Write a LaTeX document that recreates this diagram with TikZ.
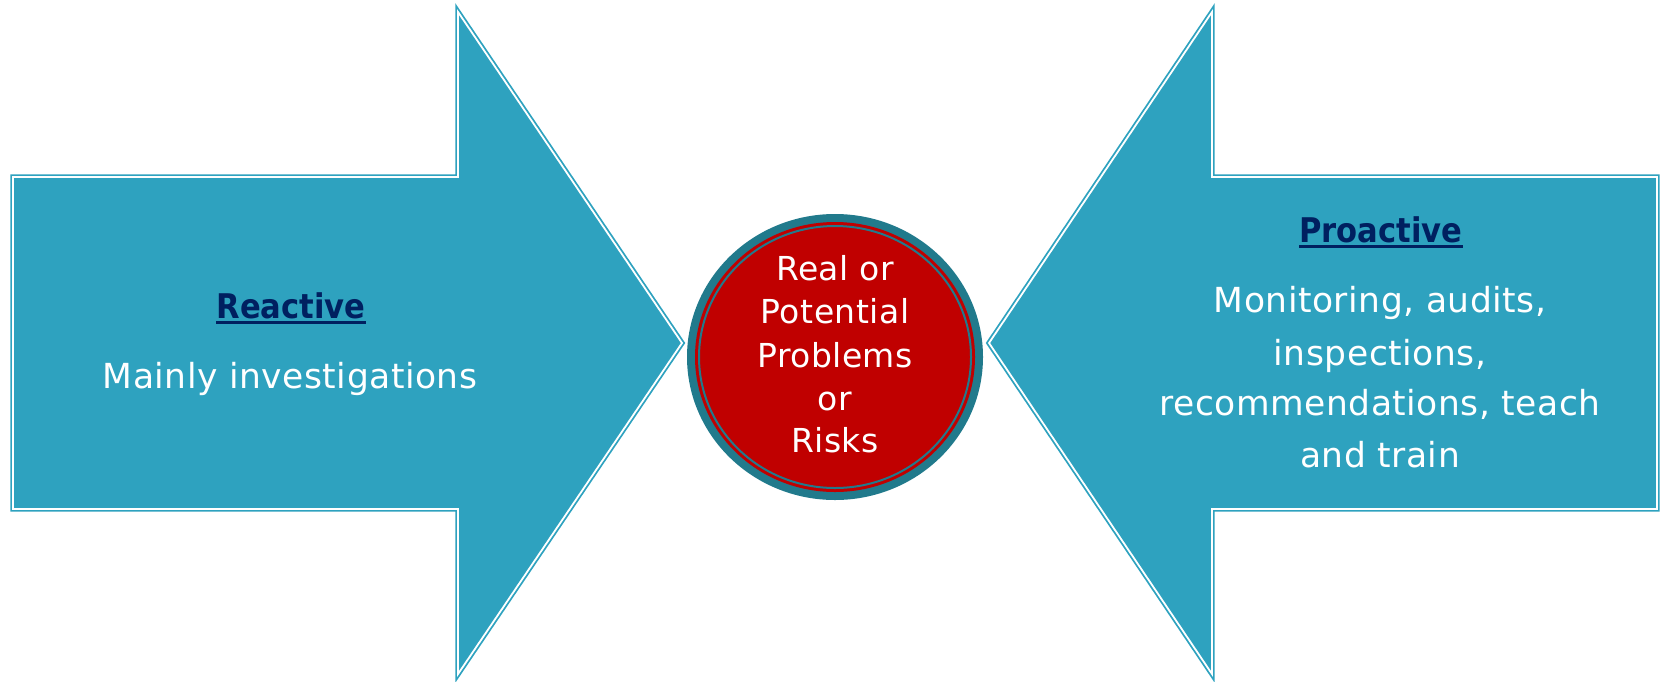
\documentclass[tikz,border=0pt]{standalone}
\usepackage{fontspec}
\setmainfont{DejaVu Sans}[LetterSpace=1.5]
\newfontfamily\titlefont{DejaVu Sans Condensed Bold}
\usetikzlibrary{shapes.geometric}
\definecolor{arrowblue}{HTML}{2EA2BF}
\definecolor{ringteal}{HTML}{217A8C}
\definecolor{corered}{HTML}{C00000}
\definecolor{navy}{HTML}{002060}
\tikzset{
  bigarrow/.style={fill=arrowblue, draw=arrowblue, double=white,
    line width=1.8pt, double distance=1.8pt, line join=miter},
  bodytext/.style={text=white, inner sep=0pt, anchor=base,
    font=\fontsize{34.5}{40}\selectfont},
  coretext/.style={text=white, inner sep=0pt, anchor=base,
    font=\fontsize{33}{40}\selectfont},
  titletext/.style={text=navy, inner sep=0pt, anchor=base,
    font=\titlefont\fontsize{34}{40}\selectfont},
  ulined/.style={draw=navy, line width=2.2pt}
}
\begin{document}
\begin{tikzpicture}[x=1pt,y=-1pt]
\useasboundingbox (0,0) rectangle (1661,681);
% left arrow
\draw[bigarrow] (13,177) -- (458,177) -- (458,12) -- (682,343) -- (458,674) -- (458,509) -- (13,509) -- cycle;
% right arrow
\draw[bigarrow] (1657,177) -- (1212,177) -- (1212,12) -- (989,343) -- (1212,674) -- (1212,509) -- (1657,509) -- cycle;
% core circle
\node[ellipse, minimum width=296pt, minimum height=286pt, fill=ringteal, inner sep=0pt] (core) at (835,357) {};
\fill[corered] (core.center) ellipse [x radius=140pt, y radius=135pt];
\draw[ringteal, line width=2pt] (core.center) ellipse [x radius=136pt, y radius=131pt];
\node[coretext] (c1) at (835,280) {Real or};
\node[coretext] (c2) at (835,323) {Potential};
\node[coretext] (c3) at (835,367) {Problems};
\node[coretext] (c4) at (835,410) {or};
\node[coretext] (c5) at (835,452) {Risks};
% left texts
\node[titletext] (reactive) at (291,318) {Reactive};
\draw[ulined] ([yshift=-4.5pt]reactive.base west) -- ([yshift=-4.5pt]reactive.base east);
\node[bodytext] (l1) at (290,388) {Mainly investigations};
% right texts
\node[titletext] (proactive) at (1381,242) {Proactive};
\draw[ulined] ([yshift=-4.5pt]proactive.base west) -- ([yshift=-4.5pt]proactive.base east);
\node[bodytext] (r1) at (1380,312) {Monitoring, audits,};
\node[bodytext] (r2) at (1380,365) {inspections,};
\node[bodytext] (r3) at (1380,415) {recommendations, teach};
\node[bodytext] (r4) at (1380,467) {and train};
\end{tikzpicture}
\end{document}
